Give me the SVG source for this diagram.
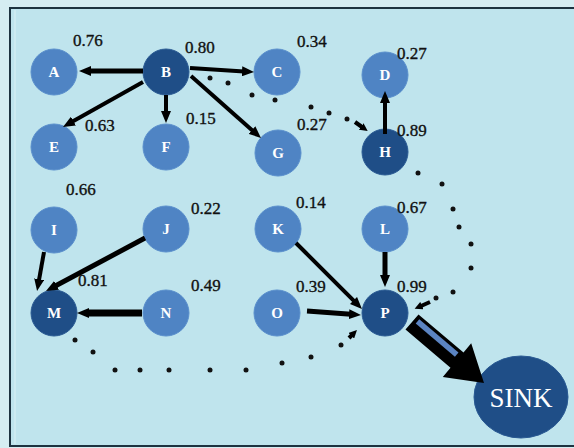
<svg xmlns="http://www.w3.org/2000/svg" width="574" height="448" viewBox="0 0 574 448">
<defs>
<style>
.bg{fill:#bfe4ed}
.frame{stroke:#1d3340;stroke-width:2;fill:none}
.n{fill:#4f84c4;stroke:#5a8fcc;stroke-width:1}
.d{fill:#1f4e87;stroke:#2a5a93;stroke-width:1}
.lt{font-family:"Liberation Serif","Times New Roman",serif;font-weight:bold;font-size:15px;fill:#ffffff;text-anchor:middle}
.sink{font-family:"Liberation Serif","Times New Roman",serif;font-size:27px;fill:#ffffff;text-anchor:middle}
.w{font-family:"Liberation Serif","Times New Roman",serif;font-size:17px;fill:#111111;stroke:#111111;stroke-width:0.35}
.e{stroke:#000;stroke-width:4;fill:none;marker-end:url(#ah)}
.es{stroke:#000;stroke-width:4;fill:none;marker-end:url(#ahs)}
.dot{fill:#111}
</style>
<marker id="ah" markerUnits="userSpaceOnUse" markerWidth="12" markerHeight="10" refX="2" refY="5" orient="auto">
<path d="M0,0 L12,5 L0,10 z" fill="#000"/>
</marker>
<marker id="ahs" markerUnits="userSpaceOnUse" markerWidth="8" markerHeight="8" refX="1" refY="4" orient="auto">
<path d="M0,0 L8,4 L0,8 z" fill="#000"/>
</marker>
</defs>
<rect x="0" y="0" width="574" height="448" fill="#d5edf2"/>
<rect class="bg" x="10" y="8" width="564" height="438"/>
<path class="frame" d="M574,8 L10,8 L10,446 L574,446"/>
<line x1="15" y1="10" x2="15" y2="444" stroke="#d9f0f4" stroke-width="1"/>

<g id="nodes">
<g id="node-A"><circle class="n" cx="54" cy="72" r="23"/><text class="lt" x="54" y="77">A</text></g>
<g id="node-B"><circle class="d" cx="166" cy="72" r="23"/><text class="lt" x="166" y="77">B</text></g>
<g id="node-C"><circle class="n" cx="277" cy="72" r="23"/><text class="lt" x="277" y="77">C</text></g>
<g id="node-D"><circle class="n" cx="385" cy="75" r="23"/><text class="lt" x="385" y="80">D</text></g>
<g id="node-E"><circle class="n" cx="54" cy="147" r="23"/><text class="lt" x="54" y="152">E</text></g>
<g id="node-F"><circle class="n" cx="166" cy="147" r="23"/><text class="lt" x="166" y="152">F</text></g>
<g id="node-G"><circle class="n" cx="278" cy="153" r="23"/><text class="lt" x="278" y="158">G</text></g>
<g id="node-H"><circle class="d" cx="385" cy="152" r="23"/><text class="lt" x="385" y="157">H</text></g>
<g id="node-I"><circle class="n" cx="54" cy="230" r="23"/><text class="lt" x="54" y="235">I</text></g>
<g id="node-J"><circle class="n" cx="166" cy="229" r="23"/><text class="lt" x="166" y="234">J</text></g>
<g id="node-K"><circle class="n" cx="278" cy="229" r="23"/><text class="lt" x="278" y="234">K</text></g>
<g id="node-L"><circle class="n" cx="385" cy="229" r="23"/><text class="lt" x="385" y="234">L</text></g>
<g id="node-M"><circle class="d" cx="54" cy="313" r="23"/><text class="lt" x="54" y="318">M</text></g>
<g id="node-N"><circle class="n" cx="166" cy="313" r="23"/><text class="lt" x="166" y="318">N</text></g>
<g id="node-O"><circle class="n" cx="277" cy="313" r="23"/><text class="lt" x="277" y="318">O</text></g>
<g id="node-P"><circle class="d" cx="385" cy="313" r="23"/><text class="lt" x="385" y="318">P</text></g>
<g id="node-SINK"><ellipse class="d" cx="521" cy="397" rx="47" ry="41"/><text class="sink" x="521" y="407">SINK</text></g>
</g>

<g id="weights">
<text class="w" x="73" y="46">0.76</text>
<text class="w" x="185" y="53">0.80</text>
<text class="w" x="297" y="47">0.34</text>
<text class="w" x="397" y="59">0.27</text>
<text class="w" x="85" y="131">0.63</text>
<text class="w" x="186" y="124">0.15</text>
<text class="w" x="297" y="130">0.27</text>
<text class="w" x="397" y="136">0.89</text>
<text class="w" x="66" y="195">0.66</text>
<text class="w" x="191" y="214">0.22</text>
<text class="w" x="296" y="208">0.14</text>
<text class="w" x="397" y="213">0.67</text>
<text class="w" x="78" y="286">0.81</text>
<text class="w" x="191" y="291">0.49</text>
<text class="w" x="296" y="292">0.39</text>
<text class="w" x="397" y="292">0.99</text>
</g>

<g id="connectors">
<line class="e" x1="143" y1="71" x2="89" y2="71" style="stroke-width:5"/>
<line class="e" x1="190" y1="68" x2="244" y2="71.4"/>
<line class="e" x1="143" y1="82" x2="71.7" y2="122"/>
<line class="e" x1="166" y1="95" x2="166" y2="113"/>
<line class="e" x1="191" y1="76" x2="253.5" y2="131.4"/>
<line class="e" x1="385" y1="134" x2="385" y2="101"/>
<line class="e" x1="44" y1="252" x2="38.8" y2="281.2"/>
<line class="e" x1="145" y1="238" x2="54.8" y2="286.3" style="stroke-width:5"/>
<line class="e" x1="142" y1="313" x2="87" y2="313" style="stroke-width:7"/>
<line class="e" x1="296" y1="243" x2="354.9" y2="301.9"/>
<line class="e" x1="307" y1="311" x2="351" y2="314.3" style="stroke-width:5"/>
<line class="e" x1="385" y1="252" x2="385" y2="277" style="stroke-width:5"/>

<g id="dots-B-H">
<circle class="dot" cx="210" cy="78" r="2.5"/>
<circle class="dot" cx="228" cy="83" r="2.5"/>
<circle class="dot" cx="252" cy="95" r="2.5"/>
<circle class="dot" cx="275" cy="100" r="2.5"/>
<circle class="dot" cx="311" cy="107" r="2.5"/>
<circle class="dot" cx="329" cy="113" r="2.5"/>
<circle class="dot" cx="347" cy="119" r="2.5"/>
<line class="es" x1="355" y1="122" x2="362" y2="127"/>
</g>
<g id="dots-H-P">
<circle class="dot" cx="418" cy="173" r="2.5"/>
<circle class="dot" cx="442" cy="184" r="2.5"/>
<circle class="dot" cx="453" cy="209" r="2.5"/>
<circle class="dot" cx="459" cy="227" r="2.5"/>
<circle class="dot" cx="471" cy="244" r="2.5"/>
<circle class="dot" cx="471" cy="268" r="2.5"/>
<circle class="dot" cx="453" cy="292" r="2.5"/>
<circle class="dot" cx="436" cy="298" r="2.5"/>
<line class="es" x1="430" y1="302" x2="421" y2="306"/>
</g>
<g id="dots-M-P">
<circle class="dot" cx="75" cy="340" r="2.5"/>
<circle class="dot" cx="93" cy="352" r="2.5"/>
<circle class="dot" cx="115" cy="370" r="2.5"/>
<circle class="dot" cx="140" cy="370" r="2.5"/>
<circle class="dot" cx="169" cy="370" r="2.5"/>
<circle class="dot" cx="210" cy="370" r="2.5"/>
<circle class="dot" cx="246" cy="370" r="2.5"/>
<circle class="dot" cx="282" cy="363" r="2.5"/>
<circle class="dot" cx="311" cy="357" r="2.5"/>
<circle class="dot" cx="341" cy="345" r="2.5"/>
<line class="es" x1="349" y1="338" x2="352" y2="335"/>
</g>

<g id="arrow-P-SINK">
<polygon points="418.5,314.4 463.5,352.5 471.2,343.3 484,383 442.8,376.9 450.5,367.7 405.5,329.6" fill="#000"/>
<line x1="416.9" y1="320.8" x2="457.3" y2="355.1" stroke="#000" stroke-width="9"/>
<line x1="417.5" y1="321.3" x2="456.7" y2="354.6" stroke="#5b84c2" stroke-width="5.5"/>
</g>
</g>
</svg>
